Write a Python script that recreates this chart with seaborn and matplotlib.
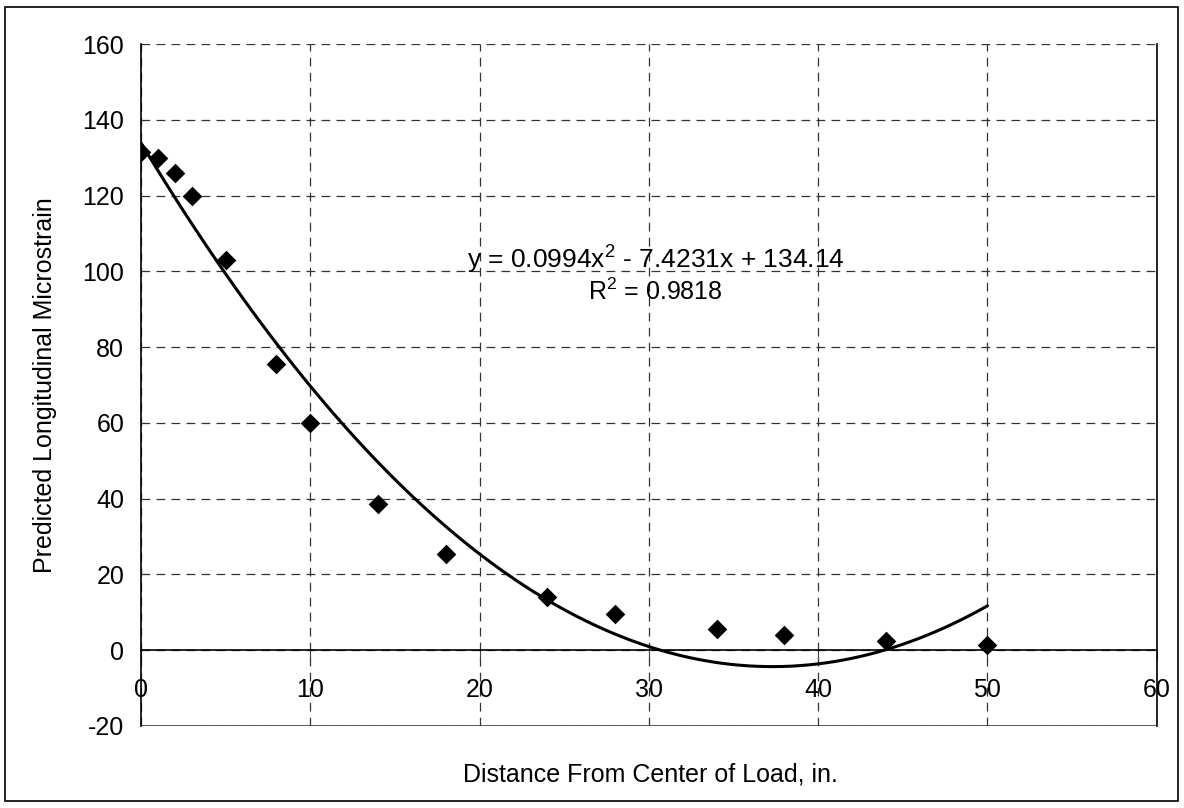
#!/usr/bin/env python3
"""Predicted longitudinal microstrain vs distance from load centre, with 2nd-order trendline."""
import numpy as np
import pandas as pd
import matplotlib
matplotlib.use('Agg')
import matplotlib.pyplot as plt
import seaborn as sns

distance = [0, 1, 2, 3, 5, 8, 10, 14, 18, 24, 28, 34, 38, 44, 50]
strain = [131.5, 130, 126, 120, 103, 75.5, 60, 38.5, 25.5, 14, 9.5, 5.5, 4, 2.5, 1.5]
x_ticks = [0, 10, 20, 30, 40, 50, 60]
y_ticks = [-20, 0, 20, 40, 60, 80, 100, 120, 140, 160]
eq_text = 'y = 0.0994x$^2$ - 7.4231x + 134.14'
r2_text = 'R$^2$ = 0.9818'

df = pd.DataFrame({'distance': distance, 'strain': strain})

sns.set_style('white')
plt.rcParams['font.family'] = ['Liberation Sans', 'DejaVu Sans']
plt.rcParams['mathtext.fontset'] = 'custom'
plt.rcParams['mathtext.rm'] = 'Liberation Sans'
plt.rcParams['axes.unicode_minus'] = False
plt.rcParams['text.color'] = 'black'
plt.rcParams['axes.labelcolor'] = 'black'

FS = 18

fig = plt.figure(figsize=(11.84, 8.08), dpi=100)
ax = fig.add_axes([0.119, 0.1015, 0.977 - 0.119, 0.9455 - 0.1015])

# trendline + points
sns.regplot(data=df, x='distance', y='strain', order=2, ci=None, scatter=False,
            truncate=True, color='black', line_kws={'lw': 2.2}, ax=ax)
sns.scatterplot(data=df, x='distance', y='strain', marker='D', s=100, color='black',
                edgecolor='black', linewidth=0, ax=ax, zorder=5)

ax.set_xlim(0, 60)
ax.set_ylim(-20, 160)
ax.set_xticks(x_ticks)
ax.set_yticks(y_ticks)
ax.grid(True, linestyle=(0, (7, 5)), color='#333333', lw=0.9)
ax.set_axisbelow(True)

ax.spines['bottom'].set_position(('data', 0))
for side in ['bottom', 'left', 'right']:
    ax.spines[side].set_color('black')
    ax.spines[side].set_linewidth(1.2)
ax.spines['top'].set_visible(False)
ax.axhline(-20, color='#444444', lw=1.2, zorder=0)

ax.tick_params(axis='both', labelsize=FS, labelcolor='black', direction='out')
ax.tick_params(axis='y', length=8, color='#444444', pad=4)
ax.tick_params(axis='x', length=7, color='#444444', pad=13, bottom=True)

ax.set_xlabel('')
ax.set_ylabel('Predicted Longitudinal Microstrain', fontsize=FS, labelpad=18)
fig.text(0.549, 0.041, 'Distance From Center of Load, in.', fontsize=FS,
         ha='center', va='center')

ax.text(30.4, 103.4, eq_text, fontsize=19, ha='center', va='center')
ax.text(30.4, 94.5, r2_text, fontsize=FS, ha='center', va='center')

# outer chart border
fig.patches.append(plt.Rectangle((0.004, 0.009), 0.991, 0.982, transform=fig.transFigure,
                                 fill=False, edgecolor='black', lw=1.2))

fig.savefig('out.png', dpi=100)
